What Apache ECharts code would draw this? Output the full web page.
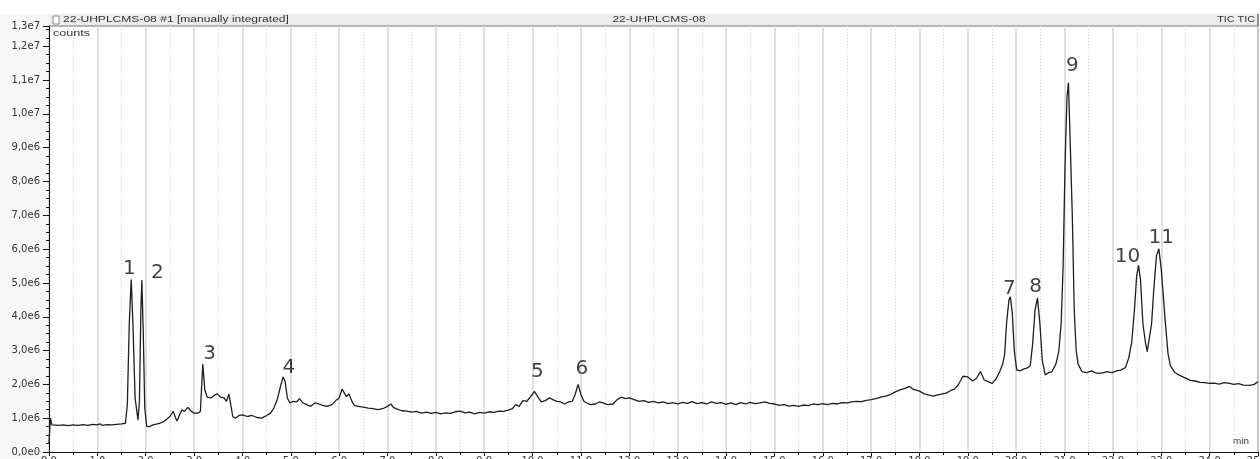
<!DOCTYPE html>
<html>
<head>
<meta charset="utf-8">
<title>22-UHPLCMS-08 TIC</title>
<script src="https://cdn.jsdelivr.net/npm/echarts@6/dist/echarts.min.js"></script>
<style>
html, body { margin: 0; padding: 0; background: #fff; }
#main { width: 1260px; height: 459px; }
</style>
</head>
<body>
<div id="main"></div>
<script>
// retention time (min) and TIC intensity (millions of counts)
var timeMin = [
  0.00, 0.03, 0.06, 0.10, 0.20, 0.30, 0.40, 0.50, 0.60, 0.70, 0.80, 0.90, 1.00, 1.05, 1.10, 1.20, 1.30, 1.40, 1.50, 1.58,
  1.62, 1.66, 1.70, 1.74, 1.78, 1.84, 1.87, 1.90, 1.92, 1.95, 1.98, 2.02, 2.08, 2.15, 2.20, 2.28, 2.35, 2.42, 2.50, 2.57,
  2.62, 2.65, 2.70, 2.75, 2.80, 2.87, 2.93, 3.00, 3.08, 3.13, 3.18, 3.22, 3.27, 3.35, 3.42, 3.48, 3.55, 3.62, 3.67, 3.72,
  3.76, 3.80, 3.85, 3.93, 4.00, 4.10, 4.20, 4.30, 4.40, 4.50, 4.58, 4.65, 4.72, 4.78, 4.84, 4.88, 4.93, 4.98, 5.05, 5.12,
  5.18, 5.25, 5.33, 5.41, 5.50, 5.58, 5.66, 5.75, 5.85, 5.93, 6.00, 6.06, 6.10, 6.15, 6.20, 6.24, 6.28, 6.32, 6.40, 6.50,
  6.60, 6.70, 6.80, 6.90, 7.00, 7.07, 7.12, 7.20, 7.30, 7.40, 7.50, 7.60, 7.70, 7.80, 7.90, 8.00, 8.10, 8.20, 8.30, 8.40,
  8.50, 8.60, 8.70, 8.80, 8.90, 9.00, 9.10, 9.20, 9.30, 9.40, 9.50, 9.58, 9.65, 9.72, 9.80, 9.88, 9.95, 10.04, 10.12, 10.18,
  10.26, 10.35, 10.42, 10.50, 10.58, 10.66, 10.74, 10.82, 10.88, 10.94, 11.00, 11.06, 11.12, 11.20, 11.30, 11.38, 11.45, 11.55, 11.66, 11.75,
  11.83, 11.92, 12.00, 12.10, 12.20, 12.30, 12.40, 12.50, 12.60, 12.70, 12.80, 12.90, 13.00, 13.10, 13.20, 13.30, 13.40, 13.50, 13.60, 13.70,
  13.80, 13.90, 14.00, 14.10, 14.20, 14.30, 14.40, 14.50, 14.60, 14.70, 14.80, 14.90, 15.00, 15.10, 15.20, 15.30, 15.40, 15.50, 15.60, 15.70,
  15.80, 15.90, 16.00, 16.10, 16.20, 16.30, 16.40, 16.50, 16.60, 16.70, 16.80, 16.90, 17.00, 17.10, 17.20, 17.30, 17.40, 17.50, 17.60, 17.70,
  17.79, 17.88, 18.00, 18.10, 18.20, 18.28, 18.40, 18.55, 18.65, 18.72, 18.80, 18.90, 19.00, 19.10, 19.18, 19.26, 19.34, 19.42, 19.50, 19.58,
  19.66, 19.72, 19.76, 19.80, 19.85, 19.88, 19.92, 19.96, 20.01, 20.08, 20.15, 20.22, 20.29, 20.34, 20.39, 20.44, 20.49, 20.54, 20.60, 20.68,
  20.74, 20.82, 20.88, 20.93, 20.97, 21.01, 21.05, 21.08, 21.11, 21.16, 21.20, 21.24, 21.28, 21.36, 21.46, 21.56, 21.66, 21.77, 21.88, 21.98,
  22.08, 22.16, 22.26, 22.33, 22.39, 22.45, 22.49, 22.53, 22.57, 22.62, 22.67, 22.71, 22.75, 22.80, 22.84, 22.90, 22.95, 23.00, 23.08, 23.14,
  23.19, 23.28, 23.36, 23.48, 23.60, 23.70, 23.80, 23.90, 24.00, 24.10, 24.20, 24.30, 24.41, 24.50, 24.60, 24.70, 24.83, 24.92, 25.00
];
var countsM = [
  0.25, 1.00, 0.80, 0.82, 0.79, 0.80, 0.78, 0.80, 0.79, 0.81, 0.79, 0.82, 0.80, 0.83, 0.79, 0.81, 0.80, 0.82, 0.83, 0.85,
  1.40, 3.80, 5.10, 3.60, 1.60, 0.95, 1.50, 4.20, 5.08, 3.50, 1.30, 0.76, 0.75, 0.80, 0.82, 0.85, 0.88, 0.95, 1.05, 1.20,
  1.00, 0.92, 1.10, 1.25, 1.20, 1.32, 1.22, 1.15, 1.15, 1.20, 2.60, 1.85, 1.62, 1.60, 1.68, 1.72, 1.62, 1.60, 1.50, 1.72,
  1.70, 1.05, 1.00, 1.08, 1.10, 1.05, 1.08, 1.02, 1.00, 1.08, 1.15, 1.30, 1.55, 1.90, 2.22, 2.10, 1.60, 1.45, 1.50, 1.48,
  1.58, 1.45, 1.40, 1.35, 1.45, 1.42, 1.38, 1.35, 1.40, 1.52, 1.60, 1.86, 1.85, 1.64, 1.72, 1.76, 1.45, 1.37, 1.35, 1.33,
  1.30, 1.28, 1.25, 1.28, 1.35, 1.42, 1.32, 1.27, 1.22, 1.21, 1.18, 1.20, 1.15, 1.18, 1.14, 1.17, 1.13, 1.16, 1.14, 1.19,
  1.21, 1.16, 1.18, 1.13, 1.17, 1.15, 1.19, 1.17, 1.21, 1.20, 1.24, 1.28, 1.40, 1.35, 1.52, 1.50, 1.62, 1.79, 1.60, 1.48,
  1.52, 1.60, 1.55, 1.50, 1.48, 1.42, 1.48, 1.50, 1.70, 2.00, 1.70, 1.50, 1.45, 1.40, 1.42, 1.48, 1.45, 1.40, 1.42, 1.55,
  1.62, 1.58, 1.60, 1.55, 1.50, 1.52, 1.47, 1.50, 1.45, 1.48, 1.43, 1.46, 1.42, 1.47, 1.44, 1.49, 1.43, 1.46, 1.42, 1.48,
  1.44, 1.46, 1.41, 1.45, 1.40, 1.46, 1.42, 1.47, 1.43, 1.45, 1.48, 1.44, 1.42, 1.38, 1.40, 1.36, 1.38, 1.35, 1.39, 1.37,
  1.42, 1.40, 1.43, 1.40, 1.44, 1.42, 1.46, 1.45, 1.48, 1.50, 1.49, 1.53, 1.55, 1.58, 1.62, 1.65, 1.70, 1.78, 1.84, 1.88,
  1.94, 1.85, 1.80, 1.72, 1.68, 1.65, 1.70, 1.74, 1.82, 1.86, 1.98, 2.24, 2.22, 2.10, 2.18, 2.38, 2.13, 2.08, 2.03, 2.15,
  2.38, 2.60, 2.87, 3.80, 4.50, 4.59, 4.10, 3.00, 2.43, 2.40, 2.45, 2.48, 2.55, 3.20, 4.20, 4.56, 3.80, 2.70, 2.28, 2.35,
  2.38, 2.60, 2.97, 3.80, 5.50, 8.50, 10.50, 10.93, 9.50, 7.00, 4.20, 3.00, 2.60, 2.38, 2.35, 2.40, 2.33, 2.33, 2.38, 2.35,
  2.40, 2.42, 2.50, 2.80, 3.26, 4.30, 5.20, 5.52, 5.10, 3.80, 3.26, 2.97, 3.00, 3.80, 4.70, 5.80, 6.01, 5.40, 3.90, 2.90,
  2.55, 2.35, 2.28, 2.20, 2.12, 2.10, 2.06, 2.05, 2.03, 2.04, 2.01, 2.05, 2.03, 2.00, 2.02, 1.98, 1.97, 2.00, 2.08
];
// peak number annotations: where each number sits (min, millions of counts)
var peakNames  = ['1', '2', '3', '4', '5', '6', '7', '8', '9', '10', '11'];
var peakLabelT = [1.66, 2.24, 3.32, 4.96, 10.10, 11.02, 19.86, 20.40, 21.16, 22.30, 23.00];
var peakLabelM = [5.41, 5.29, 2.91, 2.50, 2.38, 2.47, 4.82, 4.88, 11.41, 5.76, 6.35];

var yMax = 12.6e6;

var chart = echarts.init(document.getElementById('main'));

var traceData = timeMin.map(function (t, i) { return [t, countsM[i] * 1e6]; });
var labelData = peakLabelT.map(function (t, i) {
  return { name: peakNames[i], value: [t, peakLabelM[i] * 1e6] };
});

var axisFont = { fontFamily: 'DejaVu Sans', fontSize: 10, color: '#333' };
function headText(x, y, str, align, sx) {
  return {
    type: 'text', x: x, y: y, scaleX: sx || 1,
    style: { text: str, fontFamily: 'Liberation Sans', fontSize: 9, fill: '#333', align: align, verticalAlign: 'middle' }
  };
}

chart.setOption({
  animation: false,
  backgroundColor: '#fff',
  grid: { left: 49, right: 2, top: 26, bottom: 7, outerBoundsMode: 'none' },
  graphic: [
    { type: 'rect', z: -10, shape: { x: 0, y: 14, width: 49, height: 445 }, style: { fill: '#f7f7f7' } },
    { type: 'rect', shape: { x: 49, y: 14, width: 1209, height: 12 }, style: { fill: '#ececec' } },
    { type: 'line', shape: { x1: 49, y1: 26, x2: 1258, y2: 26 }, style: { stroke: '#777', lineWidth: 1 } },
    { type: 'line', shape: { x1: 1258, y1: 14, x2: 1258, y2: 452 }, style: { stroke: '#333', lineWidth: 1 } },
    { type: 'rect', shape: { x: 53, y: 16, width: 6, height: 8 }, style: { fill: '#fff', stroke: '#888', lineWidth: 1 } },
    headText(63, 20, '22-UHPLCMS-08 #1 [manually integrated]', 'left', 1.34),
    headText(659, 20, '22-UHPLCMS-08', 'center', 1.33),
    headText(1255, 20, 'TIC TIC', 'right', 1.2),
    headText(53, 34, 'counts', 'left', 1.4),
    headText(1249, 442, 'min', 'right', 1.1)
  ],
  xAxis: {
    type: 'value',
    min: 0,
    max: 25,
    interval: 1,
    axisLine: { lineStyle: { color: '#111', width: 1 } },
    axisTick: { length: 4, lineStyle: { color: '#111' } },
    minorTick: { show: true, splitNumber: 2, length: 3, lineStyle: { color: '#111' } },
    splitLine: { show: true, lineStyle: { color: '#d6d6d6', width: 1.5 } },
    minorSplitLine: { show: true, lineStyle: { color: '#cfcfcf', width: 1, type: [1, 2] } },
    axisLabel: Object.assign({ margin: 4, formatter: function (v) { return v.toFixed(1); } }, axisFont)
  },
  yAxis: {
    type: 'value',
    min: 0,
    max: yMax,
    interval: 1e6,
    axisLine: { show: true, lineStyle: { color: '#111', width: 1 } },
    axisTick: { show: true, length: 6, lineStyle: { color: '#111' } },
    minorTick: { show: true, splitNumber: 4, length: 3, lineStyle: { color: '#111' } },
    splitLine: { show: false },
    axisLabel: Object.assign({
      margin: 9,
      formatter: function (v) { return v.toExponential(1).replace('.', ',').replace('+', ''); }
    }, axisFont)
  },
  series: [
    {
      type: 'line',
      data: traceData,
      showSymbol: false,
      symbol: 'none',
      lineStyle: { color: '#1e1e1e', width: 1.3 },
      z: 3
    },
    {
      type: 'scatter',
      data: labelData,
      symbolSize: 0,
      label: {
        show: true,
        position: 'inside',
        formatter: '{b}',
        fontFamily: 'DejaVu Sans',
        fontSize: 20,
        color: '#111'
      },
      z: 4
    }
  ]
});
</script>
</body>
</html>
